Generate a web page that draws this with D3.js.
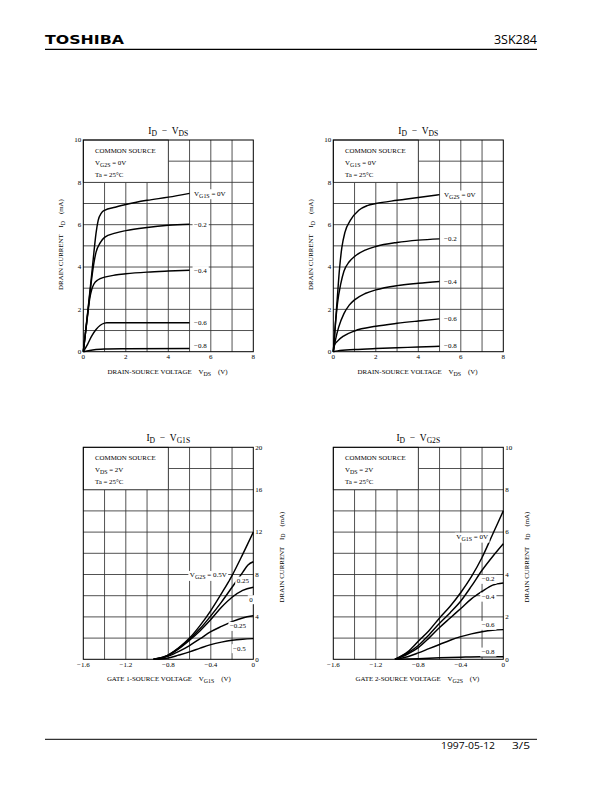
<!DOCTYPE html>
<html><head><meta charset="utf-8">
<script src="https://cdn.jsdelivr.net/npm/d3@7"></script>
<style>body{margin:0;background:#fff} svg{display:block} text{white-space:pre}</style>
</head><body>
<svg id="page" width="612" height="792"></svg>
<script>
// ---------------- DATA ----------------
// Fig 1: ID - VDS (VG2S = 0V), parameter VG1S
const fig1Labels = ["V_{G1S} = 0V", "−0.2", "−0.4", "−0.6", "−0.8"];
const fig1Series = [
  [[0,0],[0.2,1.8],[0.4,3.7],[0.5,4.7],[0.6,5.6],[0.7,6.2],[0.85,6.55],[1,6.68],[1.5,6.82],[2,6.95],[3,7.15],[4,7.3],[5,7.48]],
  [[0,0],[0.2,1.75],[0.4,3.5],[0.5,4.2],[0.6,4.7],[0.8,5.15],[1,5.4],[1.5,5.6],[2,5.72],[3,5.87],[4,5.97],[5,6.02]],
  [[0,0],[0.2,1.7],[0.3,2.5],[0.4,2.95],[0.5,3.2],[0.7,3.4],[1,3.52],[1.5,3.62],[2,3.68],[3,3.76],[4,3.81],[5,3.85]],
  [[0,0],[0.2,0.35],[0.4,0.75],[0.6,1.05],[0.8,1.25],[1,1.35],[1.1,1.37],[2,1.37],[5,1.37]],
  [[0,0],[0.3,0.06],[0.6,0.1],[1,0.13],[2,0.14],[5,0.15]]
];
// Fig 2: ID - VDS (VG1S = 0V), parameter VG2S
const fig2Labels = ["V_{G2S} = 0V", "−0.2", "−0.4", "−0.6", "−0.8"];
const fig2Series = [
  [[0,0],[0.15,2.0],[0.3,4.0],[0.4,4.9],[0.55,5.65],[0.8,6.2],[1.2,6.68],[1.6,6.9],[2,7.0],[3,7.15],[4,7.28],[5,7.42]],
  [[0,0],[0.1,1.3],[0.2,2.3],[0.35,3.2],[0.5,3.8],[0.75,4.25],[1,4.5],[1.5,4.8],[2,4.97],[3,5.16],[4,5.27],[5,5.33]],
  [[0,0],[0.1,0.55],[0.25,1.15],[0.5,1.8],[0.75,2.2],[1,2.45],[1.5,2.75],[2,2.92],[3,3.12],[4,3.23],[5,3.32]],
  [[0,0],[0.05,0.3],[0.2,0.5],[0.5,0.75],[1,0.98],[2,1.2],[3,1.34],[4,1.45],[5,1.55]],
  [[0,0],[0.2,0.04],[1,0.1],[2,0.15],[3,0.19],[4,0.22],[5,0.26]]
];
// Fig 3: ID - VG1S (VDS = 2V), parameter VG2S
const fig3Labels = ["V_{G2S} = 0.5V", "0.25", "0", "−0.25", "−0.5"];
const fig3Series = [
  [[-0.94,0],[-0.85,0.15],[-0.8,0.4],[-0.7,1.1],[-0.6,2.0],[-0.5,3.2],[-0.4,4.6],[-0.3,6.2],[-0.2,7.9],[-0.1,9.9],[0,12]],
  [[-0.94,0],[-0.8,0.4],[-0.7,1.05],[-0.6,1.9],[-0.5,2.9],[-0.4,4.1],[-0.3,5.4],[-0.2,6.8],[-0.1,8.2],[-0.05,8.9],[0,9.2]],
  [[-0.94,0],[-0.8,0.38],[-0.7,1.0],[-0.6,1.8],[-0.5,2.7],[-0.4,3.75],[-0.3,4.9],[-0.2,5.85],[-0.1,6.5],[0,6.8]],
  [[-0.93,0],[-0.8,0.3],[-0.7,0.75],[-0.6,1.3],[-0.5,1.95],[-0.4,2.6],[-0.3,3.1],[-0.2,3.55],[-0.1,3.9],[0,4.1]],
  [[-0.9,0],[-0.8,0.12],[-0.7,0.4],[-0.6,0.7],[-0.5,1.05],[-0.4,1.38],[-0.3,1.62],[-0.2,1.8],[-0.1,1.9],[0,1.95]]
];
// Fig 4: ID - VG2S (VDS = 2V), parameter VG1S
const fig4Labels = ["V_{G1S} = 0V", "−0.2", "−0.4", "−0.6", "−0.8"];
const fig4Series = [
  [[-1.02,0],[-0.9,0.35],[-0.8,0.85],[-0.7,1.35],[-0.6,1.95],[-0.5,2.5],[-0.4,3.15],[-0.3,3.9],[-0.2,4.8],[-0.1,5.9],[0,7.0]],
  [[-1.02,0],[-0.9,0.3],[-0.8,0.65],[-0.7,1.15],[-0.6,1.7],[-0.5,2.2],[-0.4,2.75],[-0.3,3.45],[-0.2,4.2],[-0.1,4.85],[0,5.45]],
  [[-1.02,0],[-0.9,0.25],[-0.8,0.55],[-0.7,1.0],[-0.6,1.5],[-0.5,1.95],[-0.4,2.4],[-0.3,2.85],[-0.2,3.2],[-0.1,3.5],[0,3.6]],
  [[-1.02,0],[-0.9,0.12],[-0.8,0.3],[-0.7,0.5],[-0.6,0.7],[-0.5,0.9],[-0.4,1.07],[-0.3,1.2],[-0.2,1.3],[-0.1,1.37],[0,1.4]],
  [[-1.0,0],[-0.8,0.03],[-0.6,0.07],[-0.4,0.1],[-0.2,0.12],[0,0.12]]
];
// label anchors (data coords) for figs 3 and 4
const fig3LabelAt = [[-0.25,7.95,"end"],[-0.156,7.42,"start"],[-0.038,5.66,"start"],[-0.22,3.14,"start"],[-0.19,1.04,"start"]];
const fig4LabelAt = [[-0.144,5.78,"end"],[-0.203,3.79,"start"],[-0.203,2.95,"start"],[-0.203,1.62,"start"],[-0.203,0.36,"start"]];

const vdsTicks = [0,2,4,6,8];
const id10Ticks = [0,2,4,6,8,10];
const id20Ticks = [0,4,8,12,16,20];
const vgTicks = [-1.6,-1.2,-0.8,-0.4,0];
const vgTickLabels = ["−1.6","−1.2","−0.8","−0.4","0"];

const fig1Box = ["COMMON SOURCE","V_{G2S} = 0V","Ta = 25°C"];
const fig2Box = ["COMMON SOURCE","V_{G1S} = 0V","Ta = 25°C"];
const fig3Box = ["COMMON SOURCE","V_{DS} = 2V","Ta = 25°C"];
const fig4Box = ["COMMON SOURCE","V_{DS} = 2V","Ta = 25°C"];

// ---------------- DRAWING ----------------
const page = d3.select("#page");
const SERIF = "'Liberation Serif','Times New Roman',serif";

function rich(sel, str, size, subScale) {
  subScale = subScale || 0.8;
  const parts = [];
  const re = /_\{([^}]*)\}/g;
  let last = 0, m;
  while ((m = re.exec(str))) {
    if (m.index > last) parts.push({t: str.slice(last, m.index), sub: false});
    parts.push({t: m[1], sub: true});
    last = re.lastIndex;
  }
  if (last < str.length) parts.push({t: str.slice(last), sub: false});
  const shift = size * 0.28;
  let down = false;
  parts.forEach(p => {
    const ts = sel.append("tspan").text(p.t);
    if (p.sub) { ts.attr("font-size", size * subScale); if (!down) { ts.attr("dy", shift); down = true; } }
    else if (down) { ts.attr("dy", -shift); down = false; }
  });
  return sel;
}

function drawChart(c) {
  const x = d3.scaleLinear().domain(c.xDomain).range([c.left, c.right]);
  const y = d3.scaleLinear().domain(c.yDomain).range([c.bottom, c.top]);
  const g = page.append("g");

  // grid
  const nx = Math.round((c.xDomain[1] - c.xDomain[0]) / c.xStep);
  const ny = Math.round((c.yDomain[1] - c.yDomain[0]) / c.yStep);
  const gx = d3.range(1, nx).map(i => c.xDomain[0] + i * c.xStep);
  const gy = d3.range(1, ny).map(i => c.yDomain[0] + i * c.yStep);
  g.selectAll(".gx").data(gx).join("line")
    .attr("x1", d => x(d)).attr("x2", d => x(d)).attr("y1", c.top).attr("y2", c.bottom)
    .attr("stroke", "#333").attr("stroke-width", 0.85);
  g.selectAll(".gy").data(gy).join("line")
    .attr("x1", c.left).attr("x2", c.right).attr("y1", d => y(d)).attr("y2", d => y(d))
    .attr("stroke", "#333").attr("stroke-width", 0.85);

  // legend box (blank region)
  g.append("rect")
    .attr("x", x(c.boxX[0])).attr("y", y(c.boxY[1]))
    .attr("width", x(c.boxX[1]) - x(c.boxX[0])).attr("height", y(c.boxY[0]) - y(c.boxY[1]))
    .attr("fill", "#fff").attr("stroke", "#333").attr("stroke-width", 0.85);
  const boxOffsets = [13, 25, 36.5];
  c.box.forEach((s, i) => {
    rich(g.append("text").attr("x", x(c.boxX[0]) + 11.7).attr("y", c.top + boxOffsets[i])
      .attr("font-family", SERIF).attr("font-size", 6.9).attr("fill", "#000"), s, 6.9, 0.85);
  });

  // frame
  g.append("rect").attr("x", c.left).attr("y", c.top)
    .attr("width", c.right - c.left).attr("height", c.bottom - c.top)
    .attr("fill", "none").attr("stroke", "#000").attr("stroke-width", 1);

  // curves
  const line = d3.line().x(d => x(d[0])).y(d => y(d[1])).curve(d3.curveMonotoneX);
  g.selectAll(".curve").data(c.series).join("path")
    .attr("d", line).attr("fill", "none").attr("stroke", "#000").attr("stroke-width", 1.45)
    .attr("stroke-linejoin", "round");

  // curve labels
  c.labels.forEach((s, i) => {
    let px, py, anchor;
    if (c.labelAt) {
      const a = c.labelAt[i];
      px = x(a[0]); py = y(a[1]); anchor = a[2];
    } else {
      const last = c.series[i][c.series[i].length - 1];
      px = x(last[0]) + 4.5; py = Math.min(y(last[1]), c.bottom - 6); anchor = "start";
    }
    const t = g.append("text").attr("x", px).attr("y", py + 2.4)
      .attr("text-anchor", anchor).attr("font-family", SERIF).attr("font-size", 7).attr("fill", "#000");
    rich(t, s, 7, 0.85);
    const bb = t.node().getBBox();
    g.insert("rect", () => t.node())
      .attr("x", bb.x - 1.5).attr("y", bb.y - 0.5).attr("width", bb.width + 3).attr("height", bb.height + 1)
      .attr("fill", "#fff");
  });

  // ticks
  const TF = 7;
  g.selectAll(".xt").data(c.xTicks).join("text")
    .attr("x", d => x(d)).attr("y", c.bottom + 7.4).attr("text-anchor", "middle")
    .attr("font-family", SERIF).attr("font-size", TF).attr("fill", "#000")
    .text((d, i) => c.xTickLabels ? c.xTickLabels[i] : d);
  g.selectAll(".yt").data(c.yTicks).join("text")
    .attr("x", c.yRight ? c.right + 2 : c.left - 2)
    .attr("y", d => y(d) + 2.3)
    .attr("text-anchor", c.yRight ? "start" : "end")
    .attr("font-family", SERIF).attr("font-size", TF).attr("fill", "#000")
    .text(d => d);

  // title
  rich(g.append("text").attr("x", (c.left + c.right) / 2).attr("y", c.top - 6.5)
    .attr("text-anchor", "middle").attr("font-family", SERIF).attr("font-size", 9.5).attr("fill", "#000"),
    c.title, 9.5, 0.8);

  // x axis label
  rich(g.append("text").attr("x", c.xLabelX).attr("y", c.xLabelY)
    .attr("text-anchor", "middle").attr("font-family", SERIF).attr("font-size", 6.9).attr("fill", "#000"),
    c.xLabel, 6.9, 0.85);

  // y axis label
  rich(g.append("text").attr("transform", `translate(${c.yLabelX},${c.yLabelY}) rotate(-90)`)
    .attr("text-anchor", "middle").attr("font-family", SERIF).attr("font-size", 6.9).attr("fill", "#000"),
    c.yLabel, 6.9, 0.85);
}

drawChart({
  left: 83.3, right: 253.3, top: 140, bottom: 351.7,
  xDomain: [0, 8], yDomain: [0, 10], xStep: 1, yStep: 1,
  boxX: [0, 4], boxY: [8, 10], box: fig1Box,
  series: fig1Series, labels: fig1Labels,
  xTicks: vdsTicks, yTicks: id10Ticks, yRight: false,
  title: "I_{D}  −  V_{DS}",
  xLabel: "DRAIN-SOURCE VOLTAGE    V_{DS}    (V)", xLabelX: 167.5, xLabelY: 374,
  yLabel: "DRAIN CURRENT    I_{D}    (mA)", yLabelX: 63.2, yLabelY: 244.5
});
drawChart({
  left: 333.3, right: 503.3, top: 140, bottom: 351.7,
  xDomain: [0, 8], yDomain: [0, 10], xStep: 1, yStep: 1,
  boxX: [0, 4], boxY: [8, 10], box: fig2Box,
  series: fig2Series, labels: fig2Labels,
  xTicks: vdsTicks, yTicks: id10Ticks, yRight: false,
  title: "I_{D}  −  V_{DS}",
  xLabel: "DRAIN-SOURCE VOLTAGE    V_{DS}    (V)", xLabelX: 417.5, xLabelY: 374,
  yLabel: "DRAIN CURRENT    I_{D}    (mA)", yLabelX: 313, yLabelY: 244.5
});
drawChart({
  left: 83.3, right: 253.3, top: 447.3, bottom: 659.3,
  xDomain: [-1.6, 0], yDomain: [0, 20], xStep: 0.2, yStep: 2,
  boxX: [-1.6, -0.8], boxY: [16, 20], box: fig3Box,
  series: fig3Series, labels: fig3Labels, labelAt: fig3LabelAt,
  xTicks: vgTicks, xTickLabels: vgTickLabels, yTicks: id20Ticks, yRight: true,
  title: "I_{D}  −  V_{G1S}",
  xLabel: "GATE 1-SOURCE VOLTAGE    V_{G1S}    (V)", xLabelX: 168.8, xLabelY: 681,
  yLabel: "DRAIN CURRENT    I_{D}    (mA)", yLabelX: 283.5, yLabelY: 557
});
drawChart({
  left: 333.3, right: 503.3, top: 447.3, bottom: 659.3,
  xDomain: [-1.6, 0], yDomain: [0, 10], xStep: 0.2, yStep: 1,
  boxX: [-1.6, -0.8], boxY: [8, 10], box: fig4Box,
  series: fig4Series, labels: fig4Labels, labelAt: fig4LabelAt,
  xTicks: vgTicks, xTickLabels: vgTickLabels, yTicks: id10Ticks, yRight: true,
  title: "I_{D}  −  V_{G2S}",
  xLabel: "GATE 2-SOURCE VOLTAGE    V_{G2S}    (V)", xLabelX: 417.5, xLabelY: 681,
  yLabel: "DRAIN CURRENT    I_{D}    (mA)", yLabelX: 528.5, yLabelY: 557
});

// header / footer
page.append("text").attr("x", 45).attr("y", 44)
  .attr("font-family", "'DejaVu Sans',sans-serif").attr("font-weight", "bold").attr("font-size", 11.5)
  .attr("textLength", 79).attr("lengthAdjust", "spacingAndGlyphs").text("TOSHIBA");
page.append("text").attr("x", 537).attr("y", 44).attr("text-anchor", "end")
  .attr("font-family", "'Open Sans','Noto Sans',sans-serif").attr("font-size", 12.5).text("3SK284");
page.append("line").attr("x1", 45).attr("x2", 537).attr("y1", 49.3).attr("y2", 49.3)
  .attr("stroke", "#000").attr("stroke-width", 1.2);
page.append("line").attr("x1", 45).attr("x2", 537).attr("y1", 739.3).attr("y2", 739.3)
  .attr("stroke", "#000").attr("stroke-width", 1);
page.append("text").attr("x", 441).attr("y", 749)
  .attr("font-family", "'Open Sans','Noto Sans',sans-serif").attr("font-size", 9.5)
  .attr("textLength", 54).attr("lengthAdjust", "spacingAndGlyphs").text("1997-05-12");
page.append("text").attr("x", 512).attr("y", 749)
  .attr("font-family", "'Open Sans','Noto Sans',sans-serif").attr("font-size", 9.5)
  .attr("textLength", 18).attr("lengthAdjust", "spacingAndGlyphs").text("3/5");
</script>
</body></html>
